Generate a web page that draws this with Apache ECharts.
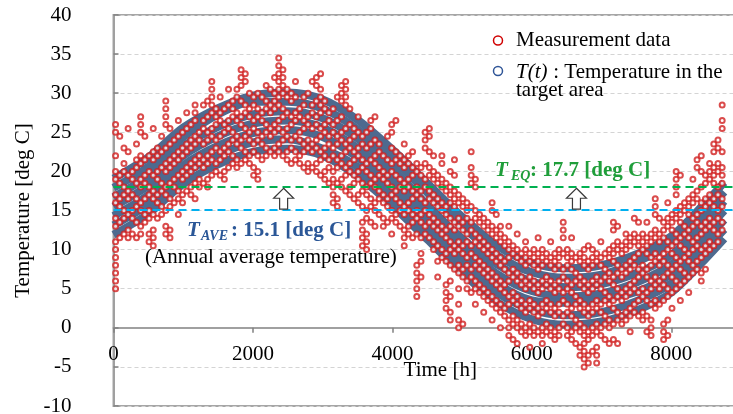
<!DOCTYPE html>
<html><head><meta charset="utf-8">
<script src="https://cdn.jsdelivr.net/npm/echarts@6/dist/echarts.min.js"></script>
<style>html,body{margin:0;padding:0;background:#fff}#c{width:733px;height:414px}</style>
</head><body><div id="c"></div>
<script>
// ---- axis ticks ----
const yTickValues = [-10,-5,0,5,10,15,20,25,30,35,40];
const xTickValues = [0,2000,4000,6000,8000];

// ---- reference temperatures ----
const tAveValue = 15.1;      // annual average (blue dashed)
const tEqLineValue = 18.1;   // drawn position of T_EQ line (label says 17.7)
const arrowTimes = [2440, 6640];

// ---- T(t): band of model curves, sampled in time ----
const bandTime = [0,500,1000,1500,2000,2500,3000,3500,4000,4500,5000,5500,6000,6500,7000,7500,8000,8500,8760];
const curveA = [19.1,21.8,25.6,28.1,29.7,30.1,29.2,26.6,22.8,18.5,14.2,10.5,8.3,7.6,8.0,9.4,11.7,16.1,18.6];
const curveB = [17.9,20.6,24.4,27.3,28.9,28.9,28.0,25.4,21.6,17.3,13.0,9.3,7.1,6.4,6.8,8.4,10.7,14.9,17.4];
const curveC = [16.7,19.4,23.2,25.7,27.3,27.7,26.8,24.2,20.4,15.7,11.4,8.1,5.9,5.2,5.6,7.0,9.3,13.7,16.2];
const curveD = [15.5,18.2,22.0,24.5,26.1,26.5,25.6,23.0,19.2,14.9,10.6,6.9,4.7,4.0,4.4,5.8,8.1,12.5,15.0];
const curveE = [14.3,17.0,20.8,23.3,24.9,25.3,24.4,21.8,18.0,13.7,9.4,5.7,3.5,3.2,3.6,4.6,6.9,11.3,13.8];
const curveF = [13.1,15.8,19.6,22.1,23.7,24.1,22.9,20.6,16.8,12.5,8.2,4.5,2.3,1.6,2.0,3.4,5.7,10.1,12.6];
const curveG = [11.9,14.6,18.4,20.9,22.5,22.9,22.0,19.4,15.6,11.3,7.0,3.3,1.1,0.4,0.8,2.2,4.5,8.9,11.4];

// ---- measurement data: time of each column and the temperatures in it ----
const measTime = [30,90,150,210,270,330,390,450,510,570,630,690,750,810,870,930,990,1050,1110,1170,1230,1290,1350,1410,1470,1530,1590,1650,1710,1770,1830,1890,1950,2010,2070,2130,2190,2250,2310,2370,2430,2490,2550,2610,2670,2730,2790,2850,2910,2970,3030,3090,3150,3210,3270,3330,3390,3450,3510,3570,3630,3690,3750,3810,3870,3930,3990,4050,4110,4170,4230,4290,4350,4410,4470,4530,4590,4650,4710,4770,4830,4890,4950,5010,5070,5130,5190,5250,5310,5370,5430,5490,5550,5610,5670,5730,5790,5850,5910,5970,6030,6090,6150,6210,6270,6330,6390,6450,6510,6570,6630,6690,6750,6810,6870,6930,6990,7050,7110,7170,7230,7290,7350,7410,7470,7530,7590,7650,7710,7770,7830,7890,7950,8010,8070,8130,8190,8250,8310,8370,8430,8490,8550,8610,8670,8730];
const measTemps = [
[5,6,7,8,9,10,11,13,14,16,17,19,20,22,25,26],
[11.5,13.5,15.5,16.5,18.5,19.5,24.5],
[12,14,15,17,18,20,21,23],
[11.5,12.5,14.5,16.5,17.5,19.5,22.5,25.5],
[12,14,15,17,19,20],
[11.5,13.5,15.5,16.5,18.5,20.5,21.5,23.5],
[12,13,15,16,18,19,21,22,25,26,27],
[13.5,14.5,16.5,18.5,19.5,21.5,24.5],
[11,12,14,15,17,18,20,22],
[10.5,11.5,12.5,14.5,16.5,17.5,19.5,21.5,22.5,25.5],
[14,16,17,19,20,22,23],
[14.5,15.5,17.5,18.5,20.5,22.5,24.5],
[12,13,15,17,18,20,21,23,26,27,28,29],
[11.5,12.5,15.5,16.5,18.5,20.5,21.5,23.5,25.5],
[16,18,19,21,22,24],
[14.5,16.5,17.5,19.5,21.5,22.5,24.5,26.5],
[16,17,19,20,22,23,25],
[17.5,19.5,20.5,22.5,23.5,25.5,27.5],
[17,18,20,21,23,24,26],
[16.5,18.5,20.5,21.5,23.5,24.5,26.5,27.5,28.5],
[18,19,21,22,24,25],
[18.5,20.5,21.5,23.5,25.5,26.5,28.5],
[18,19,21,22,24,25,27,29],
[19.5,21.5,22.5,24.5,25.5,27.5,28.5,29.5,30.5,31.5],
[20,21,23,24,26,27,28],
[19.5,21.5,22.5,24.5,26.5,27.5,29.5],
[19,20,22,23,25,26,28],
[20.5,22.5,23.5,25.5,26.5,28.5,30.5],
[21,22,24,25,27,28,29],
[20.5,21.5,23.5,24.5,26.5,27.5,29.5,30.5],
[21,23,24,26,27,29,31,32,33],
[21.5,22.5,24.5,25.5,27.5,28.5,31.5,32.5],
[21,22,24,25,27,28,30],
[19.5,20.5,22.5,23.5,25.5,26.5,28.5,29.5],
[19,20,22,24,25,27,28,30],
[21.5,23.5,24.5,26.5,27.5,29.5],
[22,23,25,26,28,29,31],
[22.5,24.5,25.5,27.5,28.5,30.5],
[22,23,25,26,28,29,30,32],
[22.5,23.5,25.5,26.5,28.5,29.5,30.5,31.5,32.5,33.5,34.5],
[22,24,25,27,28,30,31,32,33],
[21.5,22.5,24.5,25.5,27.5,29.5,30.5],
[21,23,24,26,27,29,30],
[21.5,22.5,24.5,26.5,27.5,29.5,31.5],
[21,22,24,25,27,28],
[20.5,22.5,23.5,25.5,26.5,28.5,29.5],
[20,21,23,24,26,27,30],
[20.5,22.5,23.5,25.5,27.5,28.5,31.5],
[20,21,23,24,26,27,29,31,32],
[19.5,21.5,22.5,24.5,25.5,27.5,28.5,29.5,30.5,32.5],
[19,20,22,23,25,26,28,29],
[18.5,20.5,21.5,23.5,24.5,26.5,27.5],
[16,17,18,19,20,22,23,25,26,28],
[15.5,16.5,18.5,20.5,21.5,23.5,24.5,26.5,29.5],
[18,19,21,22,24,25,27,29,30,31],
[17.5,19.5,20.5,22.5,23.5,25.5,28.5,29.5,30.5,31.5],
[17,18,20,21,23,24,26,28],
[16.5,18.5,19.5,21.5,22.5,24.5,25.5],
[16,17,19,20,22,23,25,27],
[10.5,11.5,12.5,13.5,15.5,17.5,18.5,20.5,21.5,23.5,24.5],
[10,11,12,14,15,17,18,20,21,23,25],
[13.5,15.5,16.5,18.5,19.5,21.5,23.5,25.5,26.5],
[13,15,16,18,19,21,22,24,27],
[14.5,16.5,17.5,19.5,20.5,22.5,23.5],
[13,14,16,17,19,20,22],
[13.5,15.5,16.5,18.5,19.5,21.5,24.5],
[12,14,15,17,18,20,21,23,25,26],
[13.5,14.5,16.5,17.5,19.5,21.5,22.5,26.5],
[13,15,16,18,19,21,22],
[10.5,11.5,12.5,14.5,15.5,17.5,18.5,20.5,21.5,23.5],
[12,13,15,16,18,19,21,22],
[11.5,13.5,14.5,16.5,17.5,19.5,20.5,22.5],
[4,5,6,7,8,12,14,15,17,18,20,21],
[6.5,8.5,9.5,11.5,13.5,14.5,16.5,17.5,19.5,20.5],
[12,13,15,16,18,19,21,23,24,25],
[11.5,13.5,14.5,16.5,17.5,19.5,20.5,22.5,24.5,25.5],
[10,11,13,14,16,17,19,20,22],
[6.5,8.5,10.5,12.5,13.5,15.5,16.5,18.5,19.5],
[9,10,12,13,15,16,18,19,21,22],
[2.5,3.5,4.5,5.5,8.5,9.5,11.5,12.5,14.5,15.5,17.5,18.5],
[1,2,4,6,8,10,11,13,14,16,17,18,20],
[7.5,9.5,10.5,12.5,13.5,15.5,16.5,17.5,19.5,21.5],
[0,1,3,5,7,8,10,11,13,14,16,17],
[0.5,6.5,7.5,9.5,10.5,12.5,13.5,15.5,16.5],
[5,6,8,9,11,12,14,15,16],
[4.5,6.5,7.5,9.5,10.5,12.5,13.5,15.5,18.5,19.5,20.5,22.5],
[3,5,6,8,9,11,12,14,15,18,19],
[4.5,5.5,7.5,8.5,10.5,11.5,13.5,14.5],
[2,4,5,7,8,10,11,13,14],
[3.5,4.5,6.5,7.5,9.5,10.5,12.5,13.5],
[1,3,4,6,7,9,10,12,13,15,16],
[2.5,3.5,5.5,6.5,8.5,9.5,11.5,12.5,14.5],
[0,2,3,5,6,8,9,11,12,13],
[1.5,2.5,4.5,5.5,7.5,8.5,10.5,11.5],
[-1,0,1,3,4,6,7,9,10,11,13],
[-1.5,0.5,1.5,3.5,4.5,6.5,7.5,9.5,10.5],
[-2,0,1,3,4,6,7,9,10,12],
[-0.5,0.5,2.5,3.5,5.5,6.5,8.5,9.5],
[-1,0,2,3,5,6,8,9,10,11],
[-2.5,-0.5,0.5,2.5,3.5,5.5,6.5,8.5,9.5],
[-1,0,2,3,5,6,8,9,10],
[-0.5,1.5,2.5,4.5,5.5,7.5,8.5,9.5,11.5],
[-2,-1,0,2,3,5,6,8,9,10],
[-0.5,0.5,2.5,3.5,5.5,6.5,8.5,9.5],
[-1,0,2,3,5,6,8,9,11],
[-1.5,-0.5,1.5,2.5,4.5,5.5,7.5,8.5,9.5],
[-1,0,2,3,5,6,8,9,10],
[0.5,1.5,3.5,4.5,6.5,7.5,9.5,11.5,12.5,13.5],
[-1,0,2,3,5,6,8,9,10],
[-1.5,-0.5,1.5,2.5,4.5,5.5,7.5,8.5,9.5,11.5],
[-2,0,1,3,4,6,7,9],
[-3.5,-2.5,-0.5,0.5,2.5,3.5,5.5,6.5,8.5,9.5],
[-5,-4,-3,-2,-1,0,2,3,5,6,8,9,10],
[-4.5,-3.5,-1.5,-0.5,1.5,2.5,4.5,5.5,7.5,8.5,10.5],
[-3,-1,0,2,3,5,6,8,9,10],
[-4.5,-3.5,-2.5,-0.5,0.5,2.5,3.5,5.5,6.5,8.5,9.5],
[-1,0,2,3,5,6,8,9,11],
[-1.5,0.5,1.5,3.5,4.5,6.5,7.5,9.5],
[-2,0,1,3,4,6,7,9,10],
[-1.5,0.5,2.5,3.5,5.5,6.5,8.5,9.5,10.5,12.5,13.5],
[-2,1,2,4,5,7,8,10,11,13],
[0.5,1.5,3.5,4.5,6.5,7.5,9.5,10.5],
[1,2,4,5,7,8,10,11,12],
[-0.5,1.5,2.5,4.5,5.5,7.5,8.5,10.5,11.5],
[2,3,5,6,8,9,11,12,14],
[1.5,3.5,4.5,6.5,7.5,9.5,10.5,11.5,13.5],
[1,2,4,5,7,8,10,11,12],
[-0.5,1.5,3.5,4.5,6.5,7.5,9.5,10.5,11.5,13.5],
[-1,0,1,3,5,6,8,9,11,12],
[2.5,3.5,5.5,6.5,8.5,9.5,11.5,12.5,14.5,15.5,16.5],
[3,5,6,8,9,11,12,14],
[-1.5,-0.5,0.5,3.5,5.5,6.5,8.5,9.5,11.5,12.5,13.5],
[-1,1,4,5,7,8,10,11,13,14,16],
[2.5,4.5,6.5,7.5,9.5,10.5,12.5,13.5,14.5],
[5,6,8,9,11,12,14,15,17,18,19,20],
[3.5,5.5,7.5,8.5,10.5,11.5,13.5,14.5,15.5,19.5],
[6,7,9,10,12,13,15,16],
[4.5,6.5,8.5,9.5,11.5,12.5,14.5,15.5,16.5],
[7,8,10,11,13,14,16,17,19],
[7.5,8.5,10.5,11.5,13.5,14.5,16.5,17.5,20.5,21.5],
[6,7,9,10,12,13,15,16,18,20,22],
[7.5,9.5,10.5,12.5,13.5,15.5,16.5,18.5,19.5],
[10,11,13,14,16,17,19,20,21],
[10.5,12.5,13.5,15.5,16.5,18.5,19.5,20.5,22.5,23.5],
[11,12,14,15,17,18,20,21,23,24],
[12.5,13.5,15.5,16.5,18.5,19.5,20.5,22.5,25.5,26.5,28.5]
];

const FONT = '"Liberation Serif","Times New Roman",serif';
const bandColor = '#4e6a8f';
const redColor = '#d11f1f';
const greenLine = '#00b050';
const greenText = '#1f9e3a';
const blueLine = '#00b0f0';
const blueText = '#2b5797';

const chart = echarts.init(document.getElementById('c'), null, {renderer: 'canvas'});

const points = [];
measTime.forEach((t, i) => measTemps[i].forEach(v => points.push([t, v])));

const curves = [curveA, curveB, curveC, curveD, curveE, curveF, curveG];
const series = curves.map(c => ({
  type: 'line', data: bandTime.map((t, i) => [t, c[i]]), smooth: 0.3,
  showSymbol: false, symbol: 'none', silent: true, z: 2,
  lineStyle: {color: bandColor, width: 8}
}));
series.push({
  type: 'scatter', data: points, symbol: 'emptyCircle', symbolSize: 5,
  itemStyle: {color: redColor, borderColor: redColor, borderWidth: 1.1},
  z: 3, silent: true, progressive: 0, large: false
});
series.push({
  type: 'line', data: [], z: 5, silent: true,
  markLine: {
    silent: true, symbol: ['none', 'none'], label: {show: false}, animation: false,
    data: [
      {yAxis: tEqLineValue, lineStyle: {color: greenLine, type: [8, 5], width: 2}},
      {yAxis: tAveValue, lineStyle: {color: blueLine, type: [8, 5], width: 2}}
    ]
  }
});

chart.setOption({
  animation: false,
  backgroundColor: '#fff',
  grid: {left: 113.5, right: -8, top: 15, bottom: 8, containLabel: false, outerBoundsMode: 'none',
    show: true, borderColor: '#a6a6a6', borderWidth: 2, backgroundColor: 'transparent'},
  xAxis: {
    type: 'value', min: 0, max: 9000, interval: 2000, position: 'bottom', offset: -78.2,
    name: 'Time [h]', nameLocation: 'middle', nameGap: 32, nameMoveOverlap: false,
    nameTextStyle: {fontFamily: FONT, fontSize: 21, color: '#000', padding: [0, 0, 0, 26]},
    axisLine: {onZero: false, lineStyle: {color: '#a0a0a0', width: 2}},
    axisTick: {show: true, length: 5, lineStyle: {color: '#808080', width: 1.5}},
    axisLabel: {fontFamily: FONT, fontSize: 21, color: '#000', margin: 16, showMaxLabel: false,
      formatter: v => xTickValues.includes(v) ? String(v) : ''},
    splitLine: {show: false}
  },
  yAxis: {
    type: 'value', min: -10, max: 40, interval: 5,
    name: 'Temperature [deg C]', nameLocation: 'middle', nameGap: 80, nameRotate: 90, nameMoveOverlap: false,
    nameTextStyle: {fontFamily: FONT, fontSize: 21, color: '#000'},
    axisLine: {show: true, lineStyle: {color: '#a0a0a0', width: 2}},
    axisTick: {show: true, inside: true, length: 5, lineStyle: {color: '#808080', width: 1.5}},
    axisLabel: {fontFamily: FONT, fontSize: 21, color: '#000', margin: 42,
      formatter: v => yTickValues.includes(v) ? String(v) : ''},
    splitLine: {show: true, lineStyle: {color: '#d4d4d4', width: 1.2, type: [4, 3]}}
  },
  series: series
});

// ---- annotations & legend (positions tied to the axes where meaningful) ----
const gfx = [];
arrowTimes.forEach(t => {
  const pb = chart.convertToPixel({gridIndex: 0}, [t, tAveValue]);
  const pt = chart.convertToPixel({gridIndex: 0}, [t, tEqLineValue]);
  const x = pb[0], yb = pb[1] - 0.5, yt = pt[1] + 2, yh = yt + 10;
  gfx.push({type: 'polygon', z: 100, shape: {points: [[x, yt], [x + 10, yh], [x + 4, yh], [x + 4, yb], [x - 4, yb], [x - 4, yh], [x - 10, yh]]},
    style: {fill: '#fff', stroke: '#3a3a3a', lineWidth: 1.2}});
});
function txt(text, x, y, font, fill, align) {
  return {type: 'text', z: 100, x: x, y: y, style: {text: text, font: font, fill: fill, align: align || 'left', verticalAlign: 'middle'}};
}
const R = '21px ' + FONT, B = 'bold 21px ' + FONT;
// T_EQ
gfx.push(txt('T', 495, 171, 'italic bold 21px ' + FONT, greenText));
gfx.push(txt('EQ', 511, 176, 'italic bold 14px ' + FONT, greenText));
gfx.push(txt(': 17.7 [deg C]', 530, 171, B, greenText));
// T_AVE
gfx.push(txt('T', 187, 231, 'italic bold 21px ' + FONT, blueText));
gfx.push(txt('AVE', 201, 236, 'italic bold 14px ' + FONT, blueText));
gfx.push(txt(': 15.1 [deg C]', 231, 231, B, blueText));
gfx.push(txt('(Annual average temperature)', 145, 257, R, '#000'));
// legend
gfx.push({type: 'circle', z: 100, shape: {cx: 498, cy: 40.5, r: 4.5}, style: {fill: '#fff', stroke: '#d00000', lineWidth: 1.5}});
gfx.push(txt('Measurement data', 516, 40, R, '#000'));
gfx.push({type: 'circle', z: 100, shape: {cx: 498, cy: 71, r: 4.5}, style: {fill: '#fff', stroke: '#2f5597', lineWidth: 1.5}});
gfx.push(txt('T(t)', 516, 72, 'italic 21px ' + FONT, '#000'));
gfx.push(txt(' : Temperature in the', 548, 72, R, '#000'));
gfx.push(txt('target area', 516, 90, R, '#000'));
chart.setOption({graphic: gfx});
</script>
</body></html>
